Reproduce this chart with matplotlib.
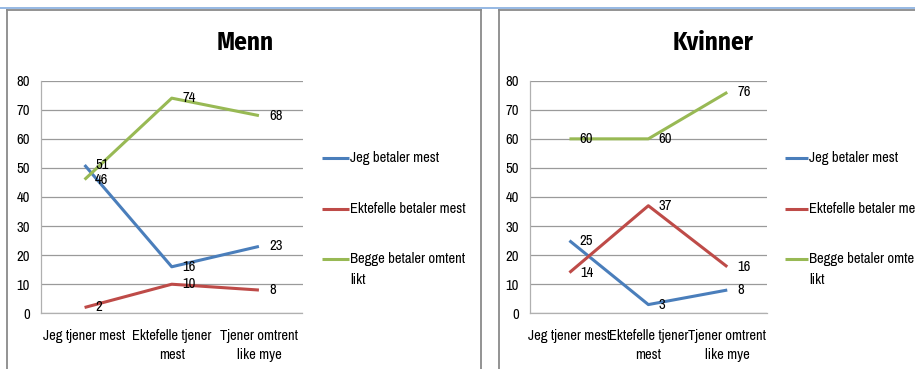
import matplotlib
matplotlib.use("Agg")
import matplotlib.pyplot as plt
from matplotlib.lines import Line2D
from matplotlib import font_manager as fm

available = set(f.name for f in fm.fontManager.ttflist)
font_choice = 'DejaVu Sans'
scale = 0.8
for cand, sc in [('Archivo Narrow', 1.0), ('Carlito', 0.9), ('Liberation Sans', 0.8)]:
    if cand in available:
        font_choice, scale = cand, sc
        break
plt.rcParams['font.family'] = [font_choice, 'DejaVu Sans']

title_font = 'DejaVu Sans'
tscale = 0.75
for cand, sc in [('Fira Sans Condensed', 1.0), ('Roboto Condensed', 1.0), ('Carlito', 0.92)]:
    if cand in available:
        title_font, tscale = cand, sc
        break

categories = ["Jeg tjener mest", "Ektefelle tjener\nmest", "Tjener omtrent\nlike mye"]
series_names = ["Jeg betaler mest", "Ektefelle betaler mest", "Begge betaler omtent\nlikt"]
menn_jeg = [51, 16, 23]
menn_ektefelle = [2, 10, 8]
menn_begge = [46, 74, 68]
kvinner_jeg = [25, 3, 8]
kvinner_ektefelle = [14, 37, 16]
kvinner_begge = [60, 60, 76]
yticks = [0, 10, 20, 30, 40, 50, 60, 70, 80]
colors = ["#4a7ebb", "#be4b48", "#98b954"]

FS = 10.5 * scale
TFS = 18 * tscale

W, H = 915, 369
fig = plt.figure(figsize=(W / 100, H / 100), dpi=100)


def fx(px):
    return px / W


def fy(py):
    return 1 - py / H


def panel(x0, x1, title, title_x, data, leg_x0, leg_x1):
    ax = fig.add_axes([fx(x0), fy(313.3), fx(x1) - fx(x0), fy(80.7) - fy(313.3)])
    xs = list(range(len(categories)))
    for vals, c in zip(data, colors):
        ax.plot(xs, vals, color=c, lw=2.2, solid_capstyle='butt', zorder=3)
        for x, v in zip(xs, vals):
            ax.annotate(str(v), (x, v), xytext=(7.5, 0), textcoords='offset points',
                        ha='left', va='center', fontsize=FS, color='black', zorder=4)
    ax.set_xlim(-0.5, 2.5)
    ax.set_ylim(0, 80)
    ax.set_yticks(yticks)
    ax.set_yticklabels([str(t) for t in yticks], fontsize=FS)
    ax.set_xticks(xs)
    ax.set_xticklabels(categories, fontsize=FS, linespacing=1.45)
    ax.tick_params(axis='both', length=0, pad=8)
    ax.tick_params(axis='x', pad=11)
    ax.grid(axis='y', color='#9a9a9a', lw=0.9)
    ax.set_axisbelow(True)
    for s in ['top', 'right']:
        ax.spines[s].set_visible(False)
    for s in ['left', 'bottom']:
        ax.spines[s].set_color('#b0b0b0')
        ax.spines[s].set_linewidth(0.9)
    fig.text(fx(title_x), fy(43), title, ha='center', va='center',
             fontsize=TFS, fontweight='bold', family=[title_font, 'DejaVu Sans'])
    # legend
    leg_y = [158, 209, 259]
    for name, c, y in zip(series_names, colors, leg_y):
        fig.add_artist(Line2D([fx(leg_x0), fx(leg_x1)], [fy(y), fy(y)],
                              color=c, lw=2.2, solid_capstyle='butt'))
        for i, part in enumerate(name.split("\n")):
            fig.text(fx(leg_x1 + 1), fy(y + 21 * i), part, ha='left', va='center',
                     fontsize=FS)
    return ax


panel(41, 302.5, "Menn", 245, [menn_jeg, menn_ektefelle, menn_begge], 322, 349)
panel(530, 766.7, "Kvinner", 713, [kvinner_jeg, kvinner_ektefelle, kvinner_begge], 785, 808)

# frames
fig.add_artist(Line2D([0, 1], [fy(8), fy(8)], color='#8db3e2', lw=1.3))
for xs_, ys_ in [([7, 7], [9.5, 369]), ([7, 481], [9.5, 9.5]), ([481, 481], [9.5, 369]),
                 ([499, 499], [9.5, 369]), ([499, 915], [9.5, 9.5])]:
    fig.add_artist(Line2D([fx(v) for v in xs_], [fy(v) for v in ys_],
                          color='#8a8a8a', lw=1.3))

fig.savefig("out.png", dpi=100)
